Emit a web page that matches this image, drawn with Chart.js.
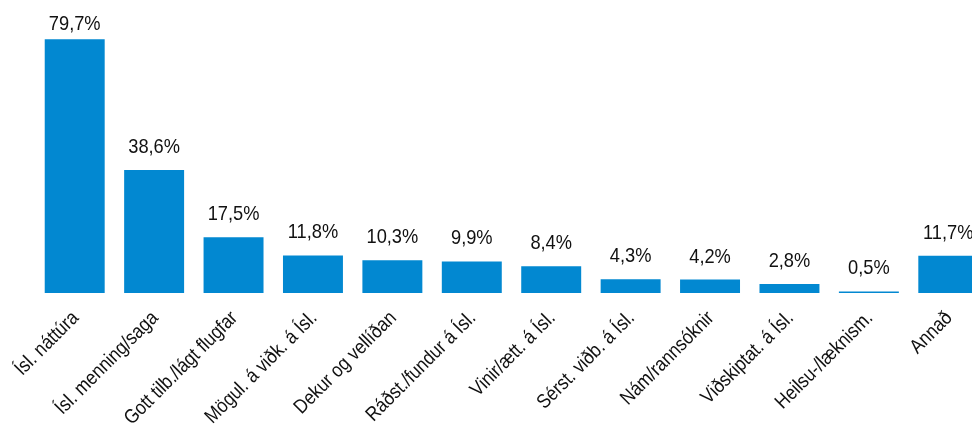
<!DOCTYPE html>
<html>
<head>
<meta charset="utf-8">
<script src="https://cdn.jsdelivr.net/npm/chart.js@4/dist/chart.umd.min.js"></script>
<style>
  html, body { margin: 0; padding: 0; background: #fff; overflow: hidden; }
  .wrap { position: relative; width: 990px; height: 428px; }
</style>
</head>
<body>
<div class="wrap"><canvas id="chart"></canvas></div>
<script>
const CATEGORIES = [
    'Ísl. náttúra', 'Ísl. menning/saga', 'Gott tilb./lágt flugfar', 'Mögul. á viðk. á Ísl.',
    'Dekur og vellíðan', 'Ráðst./fundur á Ísl.', 'Vinir/ætt. á Ísl.', 'Sérst. viðb. á Ísl.',
    'Nám/rannsóknir', 'Viðskiptat. á Ísl.', 'Heilsu-/læknism.', 'Annað'
];
const VALUES = [79.7, 38.6, 17.5, 11.8, 10.3, 9.9, 8.4, 4.3, 4.2, 2.8, 0.5, 11.7];

const FONT = '"Liberation Sans", Arial, sans-serif';
const NARROW = 0.87; // the original uses a condensed Arial-like face

// value labels above the bars and rotated category labels, both condensed
const condensedText = {
    id: 'condensedText',
    afterDatasetsDraw(chart) {
        const ctx = chart.ctx;
        const meta = chart.getDatasetMeta(0);
        const xScale = chart.scales.x;
        const bottom = chart.chartArea.bottom;
        ctx.save();
        ctx.fillStyle = '#111';

        ctx.font = '21px ' + FONT;
        ctx.textAlign = 'center';
        ctx.textBaseline = 'alphabetic';
        meta.data.forEach((bar, i) => {
            const txt = VALUES[i].toFixed(1).replace('.', ',') + '%';
            const y = Math.max(bar.y - 17, 30);
            ctx.save();
            ctx.translate(bar.x, y);
            ctx.scale(NARROW, 1);
            ctx.fillText(txt, 0, 0);
            ctx.restore();
        });

        ctx.font = '20px ' + FONT;
        ctx.textAlign = 'right';
        ctx.textBaseline = 'middle';
        CATEGORIES.forEach((lab, i) => {
            const x = xScale.getPixelForValue(i);
            ctx.save();
            ctx.translate(x + 1, bottom + 22);
            ctx.rotate(-Math.PI / 4);
            ctx.scale(NARROW, 1);
            ctx.fillText(lab, 0, 0);
            ctx.restore();
        });
        ctx.restore();
    }
};

new Chart(document.getElementById('chart'), {
    type: 'bar',
    data: {
        labels: CATEGORIES,
        datasets: [{
            data: VALUES,
            backgroundColor: '#0288D1',
            borderWidth: 0,
            barPercentage: 0.755,
            categoryPercentage: 1.0
        }]
    },
    options: {
        responsive: true, maintainAspectRatio: false,
        animation: false,
        layout: { padding: { left: 35, right: 2, top: 0, bottom: 0 } },
        plugins: { legend: { display: false }, tooltip: { enabled: false } },
        scales: {
            y: { display: false, min: 0, max: 92 },
            x: {
                grid: { display: false },
                border: { display: false },
                ticks: { display: false },
                afterFit(scale) { scale.height = 135; }
            }
        }
    },
    plugins: [condensedText]
});
</script>
</body>
</html>
